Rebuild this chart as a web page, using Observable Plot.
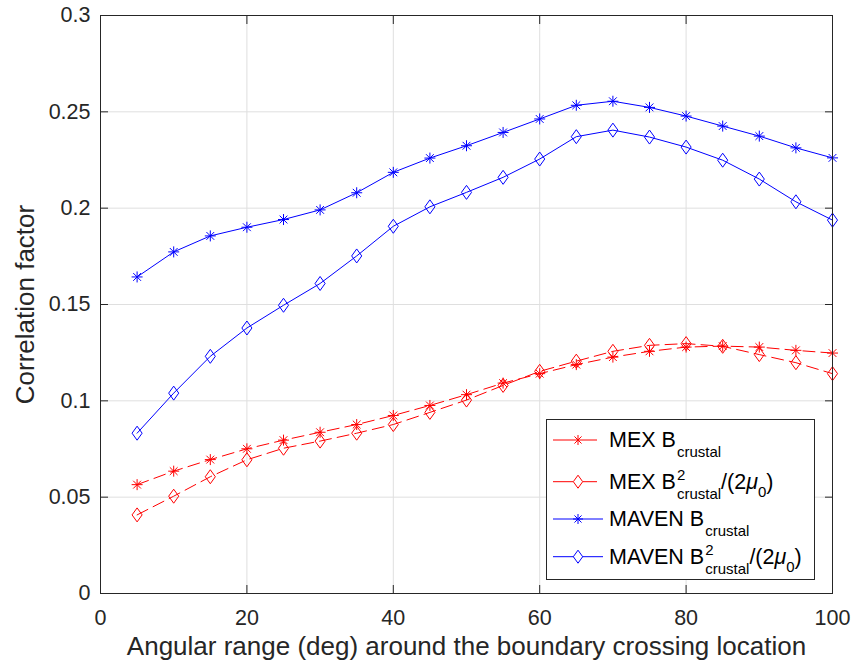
<!DOCTYPE html>
<html>
<head>
<meta charset="utf-8">
<script src="https://cdn.jsdelivr.net/npm/d3@7"></script>
<script src="https://cdn.jsdelivr.net/npm/@observablehq/plot@0.6"></script>
<style>
  html, body { margin: 0; padding: 0; background: white; }
  #wrap { position: relative; width: 857px; height: 662px; font-family: "Liberation Sans", Arial, Helvetica, sans-serif; }
  #legend { position: absolute; left: 546px; top: 419px; }
</style>
</head>
<body>
<div id="wrap"></div>
<script>
// ---- data ----
const angles = [5, 10, 15, 20, 25, 30, 35, 40, 45, 50, 55, 60, 65, 70, 75, 80, 85, 90, 95, 100];
const mexB      = [0.0565, 0.0635, 0.0695, 0.0751, 0.0796, 0.0837, 0.0877, 0.0924, 0.0976, 0.1032, 0.1092, 0.1141, 0.1188, 0.1227, 0.1257, 0.1279, 0.1284, 0.1279, 0.1262, 0.1248];
const mexB2     = [0.0408, 0.0505, 0.0606, 0.0694, 0.0754, 0.0791, 0.0832, 0.0877, 0.0940, 0.1004, 0.1080, 0.1153, 0.1206, 0.1257, 0.1288, 0.1297, 0.1283, 0.1240, 0.1198, 0.1141];
const mavenB    = [0.1643, 0.1773, 0.1856, 0.1901, 0.1941, 0.1991, 0.2080, 0.2186, 0.2260, 0.2324, 0.2393, 0.2463, 0.2534, 0.2555, 0.2523, 0.2478, 0.2426, 0.2374, 0.2313, 0.2261];
const mavenB2   = [0.0832, 0.1040, 0.1231, 0.1378, 0.1496, 0.1609, 0.1752, 0.1906, 0.2007, 0.2082, 0.2160, 0.2255, 0.2371, 0.2405, 0.2369, 0.2317, 0.2249, 0.2151, 0.2033, 0.1938];
const xTicks = [0, 20, 40, 60, 80, 100];
const yTicks = [0, 0.05, 0.1, 0.15, 0.2, 0.25, 0.3];
const yTickLabels = ["0", "0.05", "0.1", "0.15", "0.2", "0.25", "0.3"];
const xLabel = "Angular range (deg) around the boundary crossing location";
const yLabel = "Correlation factor";

// ---- styles ----
const RED = "#ff0000", BLUE = "#0000ff", AX = "#262626", GRID = "#dfdfdf";
const asterisk = {
  draw(ctx, size) {
    const r = Math.sqrt(size / Math.PI), k = r * Math.SQRT1_2;
    ctx.moveTo(0, -r); ctx.lineTo(0, r);
    ctx.moveTo(-r, 0); ctx.lineTo(r, 0);
    ctx.moveTo(-k, -k); ctx.lineTo(k, k);
    ctx.moveTo(-k, k); ctx.lineTo(k, -k);
  }
};
const tallDiamond = {
  draw(ctx, size) {
    const r = Math.sqrt(size / Math.PI), w = r * 0.72;
    ctx.moveTo(0, -r); ctx.lineTo(w, 0); ctx.lineTo(0, r); ctx.lineTo(-w, 0); ctx.closePath();
  }
};

const allSeries = [mexB, mexB2, mavenB, mavenB2];
const rows = (vals) => angles.map((a, i) => ({x: a, y: vals[i]}));
const seriesStyle = [
  {stroke: RED, dash: "12,6", sym: asterisk, r: 5.5},
  {stroke: RED, dash: "12,6", sym: tallDiamond, r: 7},
  {stroke: BLUE, dash: null, sym: asterisk, r: 5.5},
  {stroke: BLUE, dash: null, sym: tallDiamond, r: 7}
];

const marks = [
  Plot.gridX(xTicks, {stroke: GRID, strokeOpacity: 1}),
  Plot.gridY(yTicks, {stroke: GRID, strokeOpacity: 1})
];
allSeries.forEach((vals, i) => {
  const s = seriesStyle[i];
  marks.push(Plot.line(rows(vals), {x: "x", y: "y", stroke: s.stroke, strokeWidth: 1, strokeDasharray: s.dash}));
  marks.push(Plot.dot(rows(vals), {x: "x", y: "y", stroke: s.stroke, fill: "none", strokeWidth: 1, symbol: s.sym, r: s.r}));
});
const blank = () => "";
marks.push(
  Plot.frame({stroke: AX, strokeWidth: 1}),
  // inward ticks on all four sides
  Plot.axisX(xTicks, {anchor: "bottom", tickSize: 8, dy: -8, tickFormat: blank, label: null, stroke: AX}),
  Plot.axisX(xTicks, {anchor: "top", tickSize: 8, dy: 8, tickFormat: blank, label: null, stroke: AX}),
  Plot.axisY(yTicks, {anchor: "left", tickSize: 8, dx: 8, tickFormat: blank, label: null, stroke: AX}),
  Plot.axisY(yTicks, {anchor: "right", tickSize: 8, dx: -8, tickFormat: blank, label: null, stroke: AX}),
  // labels
  Plot.axisX(xTicks, {anchor: "bottom", tickSize: 0, tickPadding: 16, fontSize: 21.5, fill: AX,
    label: xLabel, labelAnchor: "center", labelOffset: 61, labelArrow: "none"}),
  Plot.axisY(yTicks, {anchor: "left", tickSize: 0, tickPadding: 10, fontSize: 21.5, fill: AX,
    tickFormat: (d) => yTickLabels[yTicks.indexOf(d)],
    label: yLabel, labelAnchor: "center", labelOffset: 85, labelArrow: "none"})
);

const chart = Plot.plot({
  width: 857, height: 662,
  marginLeft: 100, marginRight: 25, marginTop: 15, marginBottom: 69,
  x: {domain: [0, 100]},
  y: {domain: [0, 0.3]},
  style: {fontFamily: '"Liberation Sans", Arial, Helvetica, sans-serif', color: AX, background: "white", fontSize: "21.5px", overflow: "visible"},
  marks
});
document.getElementById("wrap").appendChild(chart);
// bigger axis title font
d3.select(chart).selectAll("text").filter(function() { const t = this.textContent; return t === xLabel || t === yLabel; })
  .style("font-size", "26px");

// ---- legend (HTML overlay with inline svg) ----
const lg = d3.select("#wrap").append("svg").attr("id", "legend").attr("width", 270).attr("height", 162)
  .style("font-family", '"Liberation Sans", Arial, Helvetica, sans-serif');
lg.append("rect").attr("x", 0.5).attr("y", 0.5).attr("width", 268).attr("height", 160)
  .attr("fill", "white").attr("stroke", AX).attr("stroke-width", 1);
const rowY = [21, 62.7, 100, 137.7];
const legendMain = ["MEX B", "MEX B", "MAVEN B", "MAVEN B"];
const hasSquare = [false, true, false, true];
seriesStyle.forEach((s, i) => {
  const y = rowY[i];
  const g = lg.append("g");
  if (s.dash) {
    g.append("line").attr("x1", 7).attr("x2", 27).attr("y1", y).attr("y2", y).attr("stroke", s.stroke);
    g.append("line").attr("x1", 37).attr("x2", 51).attr("y1", y).attr("y2", y).attr("stroke", s.stroke);
  } else {
    g.append("line").attr("x1", 7).attr("x2", 57).attr("y1", y).attr("y2", y).attr("stroke", s.stroke);
  }
  const p = d3.path();
  const r = i % 2 === 0 ? 5 : 6.5;
  s.sym.draw(p, r * r * Math.PI);
  g.append("path").attr("d", p.toString()).attr("transform", `translate(32,${y})`)
    .attr("fill", i % 2 ? "white" : "none").attr("stroke", s.stroke);
  // text
  const base = y + 7;
  const t1 = g.append("text").attr("x", 63).attr("y", base).attr("font-size", 21.5).attr("fill", "#000").text(legendMain[i]);
  const x1 = 63 + t1.node().getComputedTextLength();
  if (hasSquare[i]) {
    g.append("text").attr("x", x1 + 1).attr("y", base - 9).attr("font-size", 15).attr("fill", "#000").text("2");
  }
  const t2 = g.append("text").attr("x", x1 + 1).attr("y", base + 10).attr("font-size", 15).attr("fill", "#000").text("crustal");
  let x2 = x1 + 1 + t2.node().getComputedTextLength();
  if (hasSquare[i]) {
    const t3 = g.append("text").attr("x", x2).attr("y", base).attr("font-size", 21.5).attr("fill", "#000").text("/(2");
    x2 += t3.node().getComputedTextLength();
    const t4 = g.append("text").attr("x", x2).attr("y", base).attr("font-size", 21.5).attr("font-style", "italic").attr("fill", "#000").text("μ");
    x2 += t4.node().getComputedTextLength();
    const t5 = g.append("text").attr("x", x2).attr("y", base + 8).attr("font-size", 15).attr("fill", "#000").text("0");
    x2 += t5.node().getComputedTextLength();
    g.append("text").attr("x", x2).attr("y", base).attr("font-size", 21.5).attr("fill", "#000").text(")");
  }
});
</script>
</body>
</html>
